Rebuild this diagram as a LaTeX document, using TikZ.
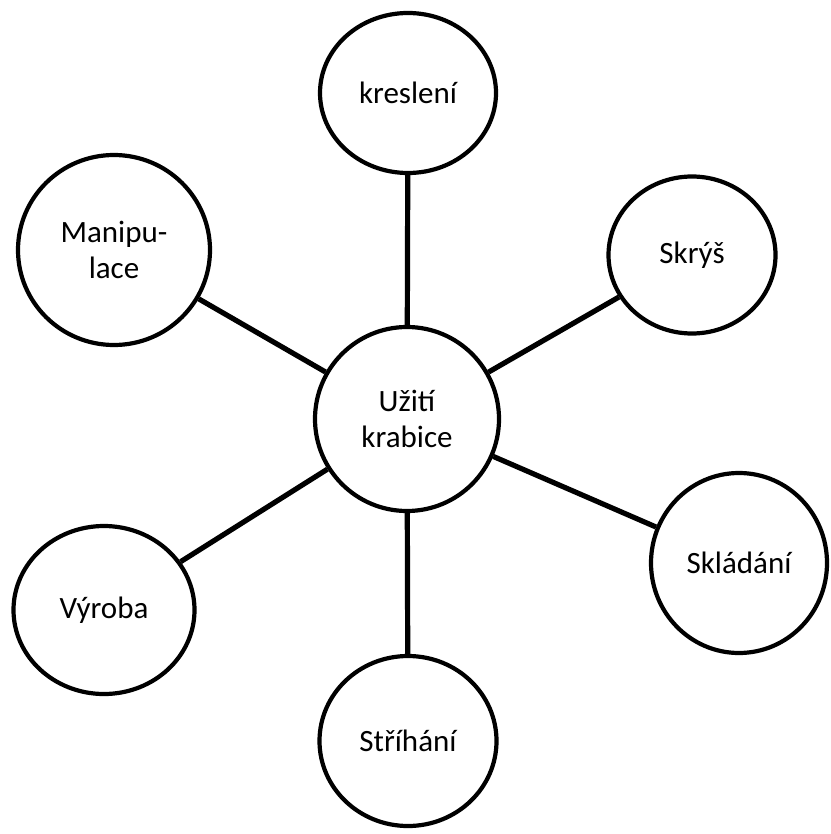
\documentclass[tikz,border=0pt]{standalone}
\usepackage{fontspec}
\setmainfont{Carlito}
\usetikzlibrary{shapes.geometric}
\begin{document}
\begin{tikzpicture}[x=1pt,y=-1pt,
  bub/.style={ellipse,draw=black,line width=4.2pt,fill=white,inner sep=0pt,align=center,
    font=\fontsize{31}{36}\selectfont},
  conn/.style={line width=5.2pt,draw=black}]
\useasboundingbox (0,0) rectangle (830,834);
\node[bub,minimum width=184pt,minimum height=184pt] (c) at (407,419) {Užití\\krabice};
\node[bub,minimum width=176pt,minimum height=160pt] (kr) at (408,93) {kreslení};
\node[bub,minimum width=192pt,minimum height=190pt] (ma) at (114,250) {Manipu-\\lace};
\node[bub,minimum width=167pt,minimum height=157pt] (sk) at (692,255) {Skrýš};
\node[bub,minimum width=176pt,minimum height=180pt] (sl) at (739,563) {Skládání};
\node[bub,minimum width=181pt,minimum height=168pt] (vy) at (104,610) {Výroba};
\node[bub,minimum width=177pt,minimum height=170pt] (st) at (408,741) {Stříhání};
\draw[conn] (c) -- (kr);
\draw[conn] (c) -- (ma);
\draw[conn] (c) -- (sk);
\draw[conn] (c) -- (sl);
\draw[conn] (c) -- (vy);
\draw[conn] (c) -- (st);
\end{tikzpicture}
\end{document}
